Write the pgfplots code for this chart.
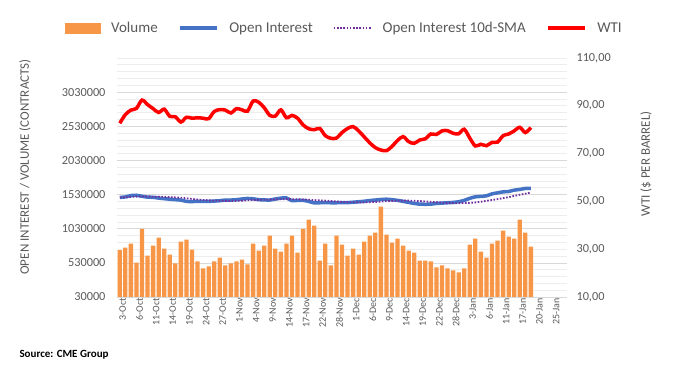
\documentclass[border=0pt]{standalone}
\usepackage{pgfplots}
\pgfplotsset{compat=1.18}
\usepackage{pgfplotstable}
\usepackage{fontspec}
\setmainfont{Carlito}
\definecolor{volc}{HTML}{F79646}
\definecolor{oic}{HTML}{4472C4}
\definecolor{smac}{HTML}{7030A0}
\definecolor{wtic}{HTML}{FF0000}
\definecolor{txtc}{HTML}{595959}
\definecolor{gridmaj}{HTML}{D9D9D9}
\definecolor{gridmin}{HTML}{EDEDED}

\pgfplotstableread{
idx vol oi sma wti
0 715000 1488000 1488000 82.7
1 754000 1495000 1490000 86.3
2 812000 1515000 1495000 88.2
3 535000 1520000 1500000 88.9
4 1026000 1505000 1502000 92.4
5 637000 1492000 1500000 90.5
6 783000 1490000 1499000 88.8
7 900000 1478000 1498000 87.2
8 739000 1470000 1497000 88.6
9 652000 1462000 1492000 85.6
10 521000 1455000 1488000 85.4
11 841000 1449000 1484000 83.2
12 871000 1430000 1475000 85.2
13 725000 1428000 1466000 84.8
14 550000 1430000 1458000 85.0
15 448000 1430000 1452000 84.8
16 477000 1430000 1446000 84.6
17 550000 1435000 1442000 87.6
18 608000 1440000 1439000 88.4
19 492000 1450000 1438000 88.2
20 521000 1450000 1437000 87.0
21 550000 1455000 1438000 88.8
22 579000 1465000 1441000 88.3
23 506000 1473000 1446000 87.8
24 812000 1468000 1450000 92.0
25 710000 1455000 1452000 91.5
26 783000 1452000 1454000 89.2
27 929000 1450000 1456000 86.0
28 739000 1465000 1458000 85.7
29 696000 1478000 1461000 88.3
30 812000 1480000 1464000 85.0
31 929000 1440000 1463000 86.0
32 681000 1445000 1461000 84.8
33 1026000 1445000 1458000 82.0
34 1162000 1430000 1454000 80.4
35 1075000 1408000 1449000 80.0
36 564000 1410000 1445000 80.5
37 812000 1412000 1441000 77.5
38 492000 1410000 1436000 76.4
39 929000 1410000 1429000 76.5
40 798000 1412000 1422000 78.8
41 637000 1412000 1419000 80.5
42 739000 1418000 1417000 81.3
43 652000 1425000 1415000 79.5
44 841000 1432000 1415000 77.0
45 929000 1442000 1418000 74.5
46 973000 1450000 1422000 72.5
47 1352000 1458000 1427000 71.5
48 943000 1462000 1432000 71.2
49 827000 1455000 1437000 73.0
50 885000 1445000 1440000 75.5
51 783000 1430000 1442000 77.1
52 710000 1415000 1441000 75.0
53 681000 1400000 1439000 74.3
54 564000 1390000 1435000 75.7
55 564000 1388000 1429000 76.2
56 550000 1390000 1423000 78.2
57 462000 1400000 1418000 78.0
58 492000 1405000 1412000 79.5
59 448000 1410000 1407000 79.6
60 419000 1415000 1404000 78.5
61 390000 1425000 1404000 78.3
62 448000 1445000 1406000 80.2
63 798000 1475000 1408000 76.5
64 885000 1497000 1415000 73.2
65 696000 1503000 1425000 73.9
66 608000 1512000 1438000 73.3
67 812000 1540000 1450000 74.7
68 856000 1555000 1463000 74.8
69 1002000 1570000 1478000 77.5
70 914000 1575000 1492000 78.2
71 885000 1595000 1510000 79.5
72 1162000 1605000 1527000 81.0
73 973000 1620000 1543000 78.8
74 769000 1622000 1560000 80.9
}\data

\begin{document}
\begin{tikzpicture}
\useasboundingbox (-117pt,-77pt) rectangle (564pt,297pt);
\begin{axis}[
  scale only axis, width=450pt, height=239pt,
  at={(0pt,0pt)}, anchor=south west,
  xmin=-0.5, xmax=80.5, ymin=30000, ymax=3530000,
  axis x line*=bottom, axis y line*=left,
  y axis line style={draw=none},
  x axis line style={draw=gridmaj, line width=0.8pt, -},
  xtick={0,3,...,78},
  xticklabels={3-Oct,6-Oct,11-Oct,14-Oct,19-Oct,24-Oct,27-Oct,1-Nov,4-Nov,9-Nov,14-Nov,17-Nov,22-Nov,28-Nov,1-Dec,6-Dec,9-Dec,14-Dec,19-Dec,22-Dec,28-Dec,3-Jan,6-Jan,11-Jan,17-Jan,20-Jan,25-Jan},
  x tick style={draw=none},
  extra x ticks={-0.5,0.5,...,80.5},
  extra x tick labels={},
  extra x tick style={grid=none, xtick align=outside, major tick length=3.5pt,
    tick style={draw=gridmaj, line width=0.6pt}},
  x tick label style={rotate=90, anchor=east, font=\fontsize{10}{12}\selectfont, text=txtc, inner sep=1pt, yshift=-3pt},
  scaled y ticks=false,
  ytick={30000,530000,1030000,1530000,2030000,2530000,3030000},
  yticklabels={30000,530000,1030000,1530000,2030000,2530000,3030000},
  minor ytick={130000,230000,330000,430000,630000,730000,830000,930000,1130000,1230000,1330000,1430000,1630000,1730000,1830000,1930000,2130000,2230000,2330000,2430000,2630000,2730000,2830000,2930000,3130000,3230000,3330000,3430000,3530000},
  y tick label style={font=\fontsize{12.3}{14}\selectfont, text=txtc, xshift=-8pt},
  y tick style={draw=none}, minor y tick style={draw=none},
  ymajorgrids, yminorgrids,
  y grid style={gridmaj, line width=0.7pt},
  minor y grid style={gridmin, line width=0.7pt},
]
\addplot[ybar, bar width=4.3pt, fill=volc, draw=none] table[x=idx,y=vol]{\data};
\addplot[oic, line width=3.5pt, smooth] table[x=idx,y=oi]{\data};
\addplot[smac, line width=1.8pt, dash pattern=on 1.6pt off 1.6pt] table[x=idx,y=sma]{\data};
\end{axis}
\begin{axis}[
  scale only axis, width=450pt, height=239pt,
  at={(0pt,0pt)}, anchor=south west,
  xmin=-0.5, xmax=80.5, ymin=10, ymax=110,
  axis x line=none, axis y line*=right,
  y axis line style={draw=none},
  ytick={10,30,50,70,90,110},
  yticklabels={{10,00},{30,00},{50,00},{70,00},{90,00},{110,00}},
  y tick label style={font=\fontsize{12.3}{14}\selectfont, text=txtc, xshift=6pt},
  ytick style={draw=none},
  legend image code/.code={\draw[#1] (0pt,0pt) -- (37pt,0pt);},
  legend style={at={(0.505,1.125)}, anchor=center, draw=none, fill=none,
    font=\fontsize{15}{18}\selectfont, text=txtc,
    /tikz/every even column/.append style={column sep=18pt},
    /tikz/every odd column/.append style={column sep=9pt}},
  legend columns=4, legend cell align=left,
]
\addlegendimage{legend image code/.code={\fill[volc] (0pt,-4.8pt) rectangle (35pt,4.8pt);}}
\addlegendentry{Volume}
\addlegendimage{oic, line width=3.5pt}
\addlegendentry{Open Interest}
\addlegendimage{smac, line width=1.8pt, dash pattern=on 1.6pt off 1.6pt}
\addlegendentry{Open Interest 10d-SMA}
\addplot[wtic, line width=3.5pt, smooth] table[x=idx,y=wti]{\data};
\addlegendentry{WTI}
\end{axis}
\node[rotate=90, font=\fontsize{13}{15}\selectfont, text=txtc] at (-92pt,130pt) {OPEN INTEREST / VOLUME (CONTRACTS)};
\node[rotate=90, font=\fontsize{13}{15}\selectfont, text=txtc] at (529pt,133pt) {WTI (\$ PER BARREL)};
\node[anchor=west, font=\bfseries\fontsize{11}{13}\selectfont] at (-101pt,-58pt) {Source: CME Group};
\end{tikzpicture}
\end{document}
